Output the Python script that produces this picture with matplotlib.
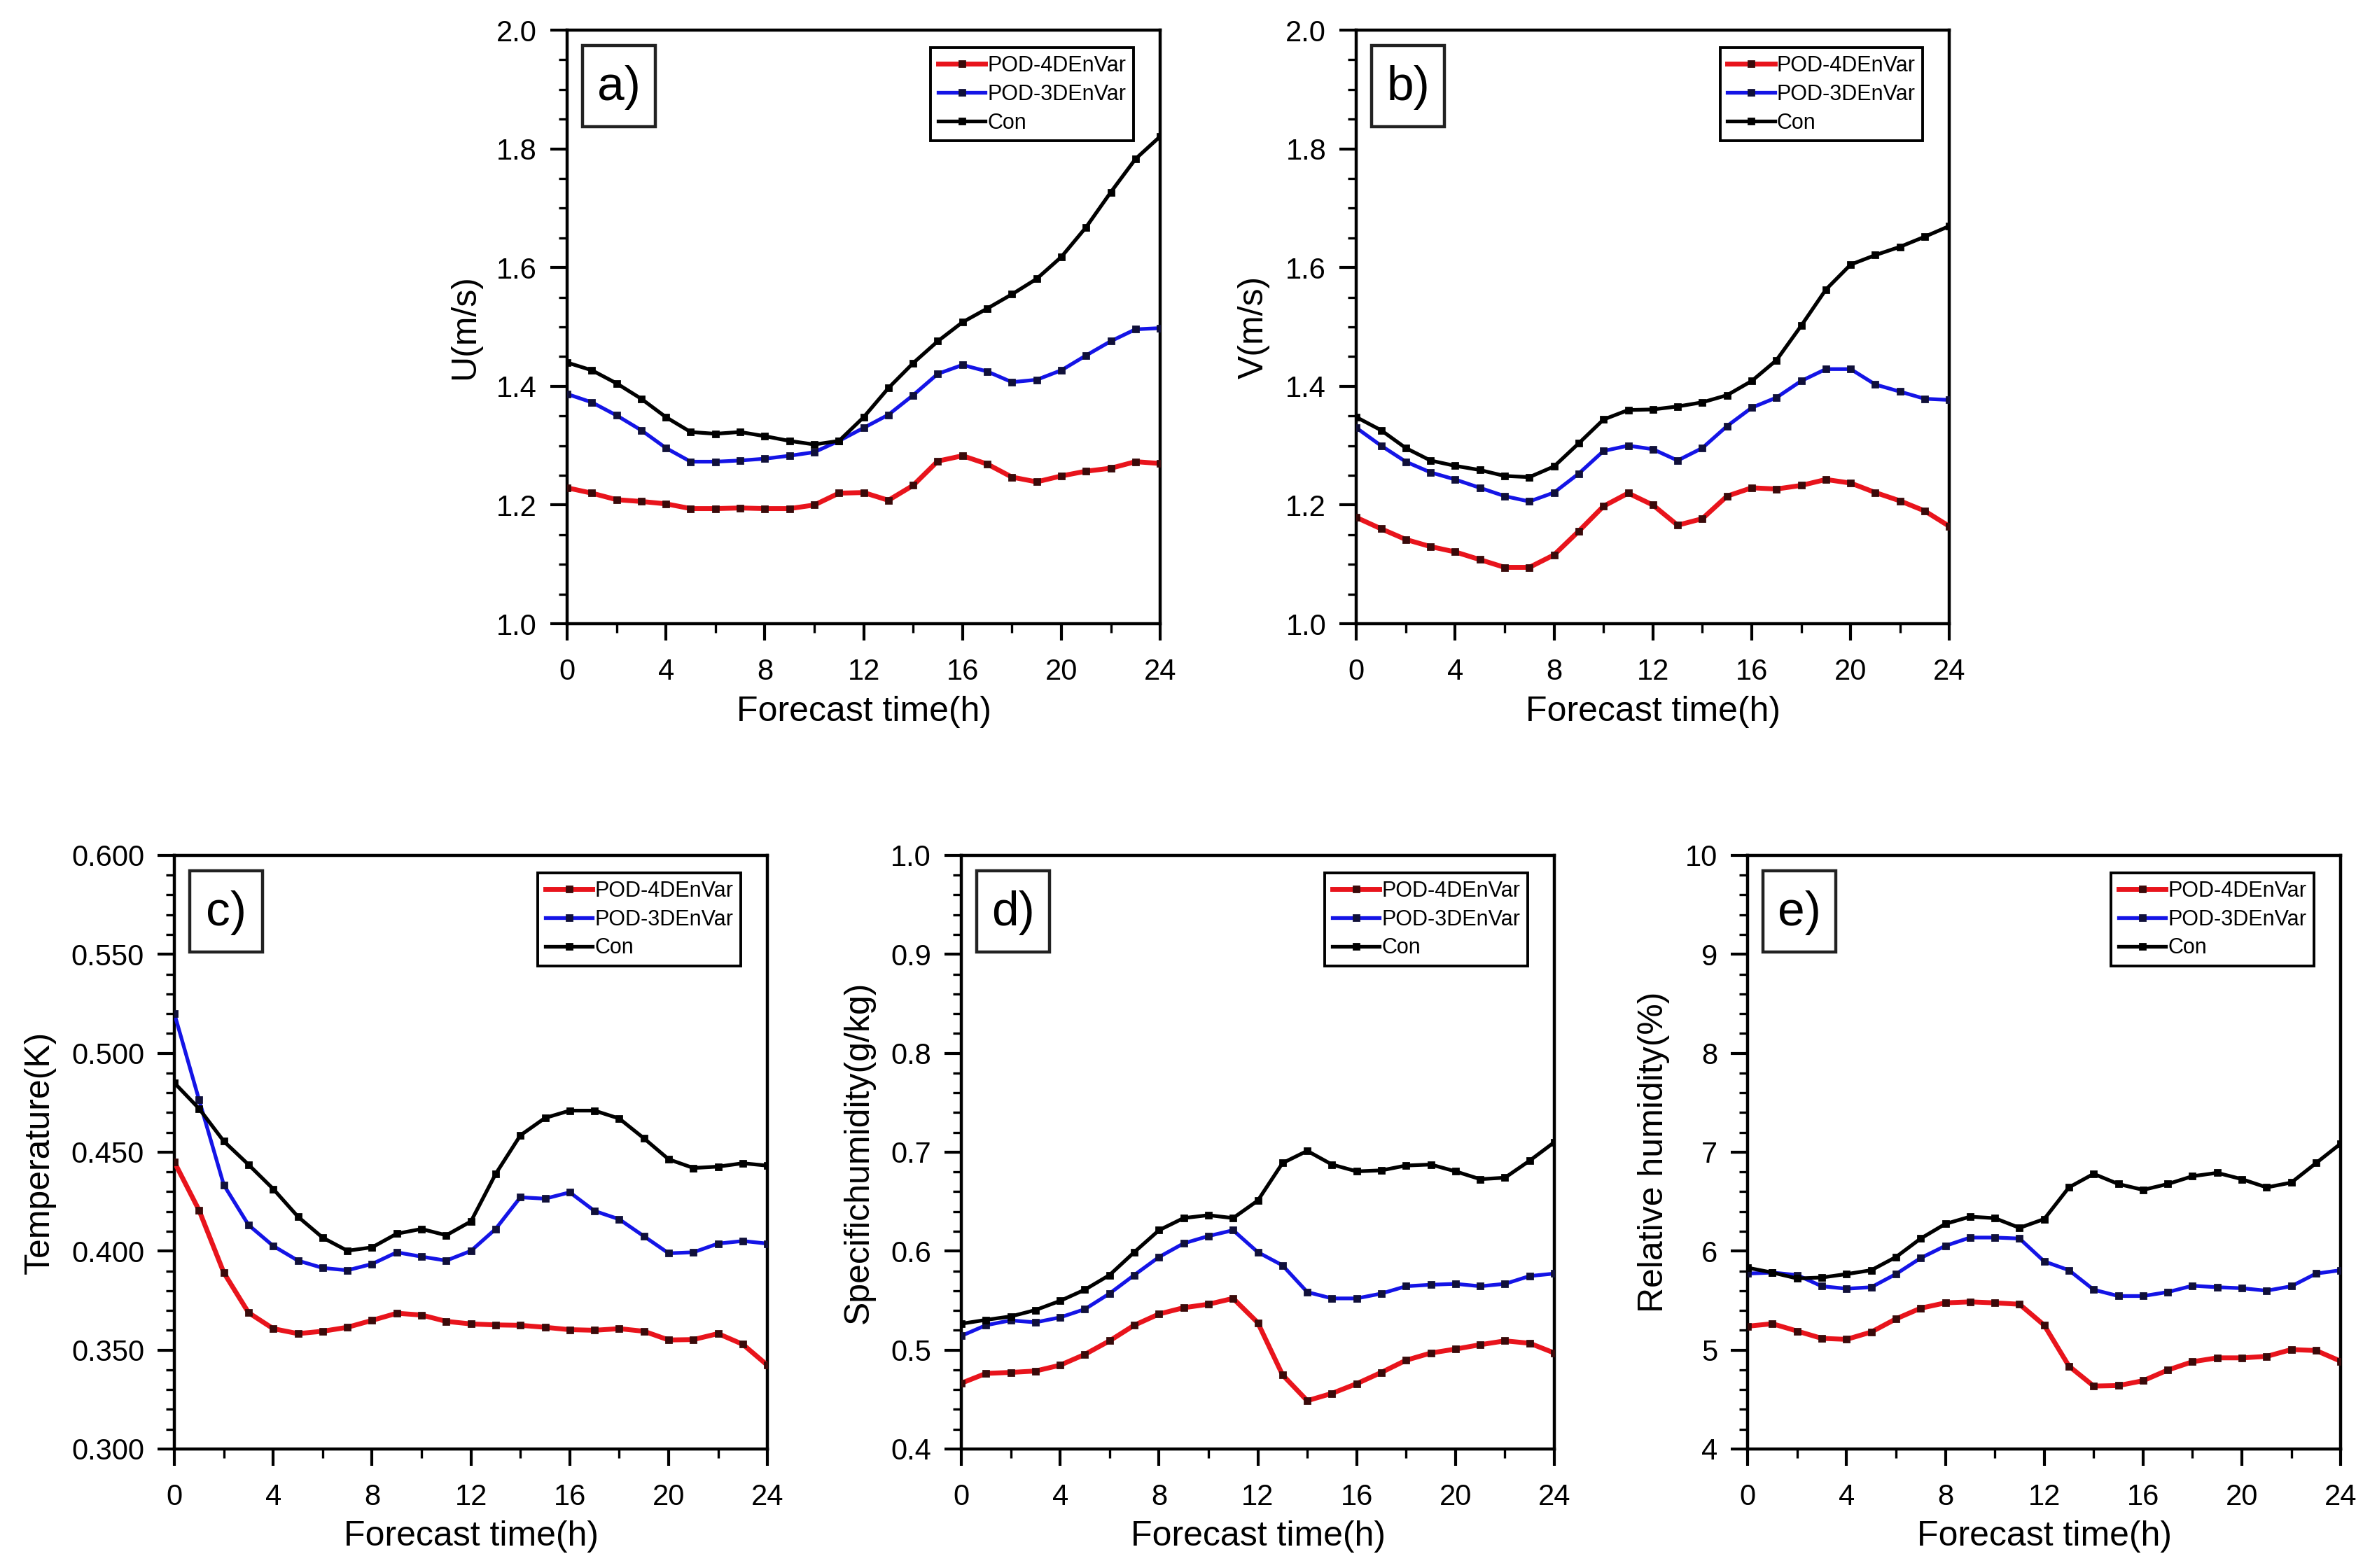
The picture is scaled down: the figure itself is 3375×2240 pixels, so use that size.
import matplotlib
matplotlib.use("Agg")
import matplotlib.pyplot as plt
from matplotlib.ticker import MultipleLocator, FormatStrFormatter
from matplotlib.patches import Rectangle

plt.rcParams['font.family'] = ['Liberation Sans', 'DejaVu Sans']

hours = list(range(25))
series_names = ["POD-4DEnVar", "POD-3DEnVar", "Con"]

# Panel a: U (m/s)
a_4d = [1.229, 1.220, 1.209, 1.206, 1.202, 1.194, 1.194, 1.195, 1.194, 1.194, 1.200, 1.220, 1.221,
        1.208, 1.233, 1.274, 1.283, 1.269, 1.247, 1.239, 1.249, 1.257, 1.262, 1.273, 1.270]
a_3d = [1.387, 1.373, 1.351, 1.326, 1.296, 1.273, 1.273, 1.275, 1.278, 1.283, 1.289, 1.308, 1.330,
        1.352, 1.385, 1.421, 1.436, 1.425, 1.407, 1.411, 1.427, 1.452, 1.476, 1.496, 1.498]
a_con = [1.440, 1.427, 1.405, 1.379, 1.348, 1.323, 1.320, 1.323, 1.316, 1.308, 1.302, 1.308, 1.348,
         1.397, 1.439, 1.476, 1.508, 1.531, 1.555, 1.581, 1.618, 1.668, 1.727, 1.783, 1.821]

# Panel b: V (m/s)
b_4d = [1.179, 1.160, 1.142, 1.130, 1.121, 1.108, 1.095, 1.095, 1.116, 1.156, 1.198, 1.220, 1.200,
        1.166, 1.177, 1.215, 1.229, 1.227, 1.233, 1.243, 1.237, 1.221, 1.207, 1.190, 1.164]
b_3d = [1.330, 1.300, 1.273, 1.255, 1.243, 1.229, 1.215, 1.206, 1.221, 1.253, 1.291, 1.300, 1.294,
        1.275, 1.296, 1.333, 1.364, 1.381, 1.409, 1.429, 1.429, 1.403, 1.391, 1.379, 1.377]
b_con = [1.348, 1.326, 1.296, 1.275, 1.266, 1.259, 1.249, 1.247, 1.265, 1.304, 1.344, 1.360, 1.361,
         1.366, 1.373, 1.385, 1.409, 1.444, 1.502, 1.563, 1.605, 1.621, 1.635, 1.652, 1.670]

# Panel c: Temperature (K)
c_4d = [0.445, 0.4206, 0.3891, 0.3689, 0.3608, 0.3583, 0.3595, 0.3615, 0.365, 0.3686, 0.3677, 0.3645,
        0.3632, 0.3627, 0.3625, 0.3615, 0.3603, 0.360, 0.3608, 0.3595, 0.3551, 0.3553, 0.3583, 0.3529, 0.3423]
c_3d = [0.520, 0.4764, 0.4334, 0.4132, 0.4026, 0.3952, 0.3915, 0.3903, 0.3935, 0.3994, 0.3972, 0.3952,
        0.4001, 0.4112, 0.4272, 0.4265, 0.4297, 0.4203, 0.4161, 0.4075, 0.3989, 0.3994, 0.4038, 0.4051, 0.4038]
c_con = [0.485, 0.472, 0.4555, 0.4437, 0.4314, 0.4174, 0.4068, 0.4002, 0.4019, 0.4088, 0.4112, 0.408,
         0.415, 0.439, 0.4585, 0.4673, 0.471, 0.471, 0.467, 0.457, 0.4464, 0.442, 0.4427, 0.4444, 0.4432]

# Panel d: Specific humidity (g/kg)
d_4d = [0.4665, 0.4764, 0.4774, 0.4788, 0.4847, 0.4956, 0.5093, 0.5251, 0.5364, 0.5428, 0.5463, 0.5522,
        0.5276, 0.4749, 0.4488, 0.4562, 0.466, 0.4774, 0.4897, 0.497, 0.501, 0.5054, 0.5093, 0.5069, 0.497]
d_3d = [0.5143, 0.5251, 0.530, 0.528, 0.533, 0.5413, 0.5571, 0.5758, 0.594, 0.6078, 0.6152, 0.6211,
        0.5989, 0.5856, 0.5586, 0.5522, 0.5522, 0.5571, 0.5645, 0.566, 0.5669, 0.5645, 0.5669, 0.5748, 0.5773]
d_con = [0.5266, 0.5305, 0.534, 0.5404, 0.5497, 0.561, 0.5758, 0.5989, 0.6211, 0.6334, 0.6363, 0.6334,
         0.6511, 0.689, 0.7013, 0.6875, 0.6806, 0.6816, 0.6865, 0.6875, 0.6806, 0.6727, 0.6742, 0.6914, 0.7101]

# Panel e: Relative humidity (%)
e_4d = [5.241, 5.266, 5.192, 5.118, 5.108, 5.182, 5.315, 5.423, 5.477, 5.487, 5.477, 5.463, 5.251,
        4.838, 4.636, 4.641, 4.690, 4.798, 4.882, 4.921, 4.921, 4.936, 5.005, 4.995, 4.887]
e_3d = [5.773, 5.783, 5.758, 5.645, 5.620, 5.635, 5.768, 5.930, 6.053, 6.137, 6.137, 6.127, 5.896,
        5.807, 5.610, 5.546, 5.546, 5.586, 5.650, 5.635, 5.625, 5.600, 5.645, 5.773, 5.807]
e_con = [5.832, 5.783, 5.724, 5.733, 5.768, 5.807, 5.940, 6.127, 6.275, 6.348, 6.333, 6.235, 6.324,
         6.644, 6.781, 6.678, 6.619, 6.678, 6.757, 6.791, 6.727, 6.644, 6.693, 6.890, 7.087]

panels = [
    dict(tag="a)", ylabel="U(m/s)", data=(a_4d, a_3d, a_con), ylim=(1.0, 2.0), major=0.2, minor=0.05,
         fmt="%.1f", pos=[0.240, 0.6022, 0.251, 0.3786]),
    dict(tag="b)", ylabel="V(m/s)", data=(b_4d, b_3d, b_con), ylim=(1.0, 2.0), major=0.2, minor=0.05,
         fmt="%.1f", pos=[0.574, 0.6022, 0.251, 0.3786]),
    dict(tag="c)", ylabel="Temperature(K)", data=(c_4d, c_3d, c_con), ylim=(0.3, 0.6), major=0.05, minor=0.01,
         fmt="%.3f", pos=[0.0738, 0.0759, 0.251, 0.3786]),
    dict(tag="d)", ylabel="Specifichumidity(g/kg)", data=(d_4d, d_3d, d_con), ylim=(0.4, 1.0), major=0.1,
         minor=0.02, fmt="%.1f", pos=[0.4068, 0.0759, 0.251, 0.3786]),
    dict(tag="e)", ylabel="Relative humidity(%)", data=(e_4d, e_3d, e_con), ylim=(4, 10), major=1, minor=0.2,
         fmt="%d", pos=[0.7396, 0.0759, 0.251, 0.3786]),
]

line_colors = ["#e8141c", "#1414e6", "#000000"]
marker_colors = ["#3a0a0a", "#10103a", "#000000"]
line_widths = [2.5, 1.9, 1.9]

fig = plt.figure(figsize=(16.875, 11.2), dpi=200)

for p in panels:
    ax = fig.add_axes(p["pos"])
    for vals, name, lc, mc, lw in zip(p["data"], series_names, line_colors, marker_colors, line_widths):
        ax.plot(hours, vals, color=lc, lw=lw, marker="s", markersize=3.0,
                markerfacecolor=mc, markeredgecolor=mc, label=name, zorder=3)
    ax.set_xlim(0, 24)
    ax.set_ylim(*p["ylim"])
    ax.xaxis.set_major_locator(MultipleLocator(4))
    ax.xaxis.set_minor_locator(MultipleLocator(2))
    ax.yaxis.set_major_locator(MultipleLocator(p["major"]))
    ax.yaxis.set_minor_locator(MultipleLocator(p["minor"]))
    ax.yaxis.set_major_formatter(FormatStrFormatter(p["fmt"]))
    ax.tick_params(which="major", direction="out", length=8.5, width=1.5, labelsize=15, pad=7)
    ax.tick_params(axis="x", which="major", pad=9)
    ax.tick_params(which="minor", direction="out", length=4.5, width=1.2)
    ax.tick_params(top=False, right=False)
    for s in ax.spines.values():
        s.set_linewidth(1.6)
    ax.set_xlabel("Forecast time(h)", fontsize=18, labelpad=5)
    ax.set_ylabel(p["ylabel"], fontsize=18, labelpad=8)
    # panel tag box
    ax.add_patch(Rectangle((0.026, 0.837), 0.123, 0.137, transform=ax.transAxes,
                           fill=False, edgecolor="#222222", lw=1.6, zorder=5))
    ax.text(0.0875, 0.903, p["tag"], transform=ax.transAxes, fontsize=25,
            ha="center", va="center", zorder=6)
    leg = ax.legend(loc="upper right", bbox_to_anchor=(0.955, 0.97), fontsize=11,
                    frameon=True, fancybox=False, edgecolor="black", framealpha=1,
                    handlelength=2.2, handletextpad=0.1, labelspacing=0.35,
                    borderpad=0.35, borderaxespad=0.0)
    leg.get_frame().set_linewidth(1.4)

fig.savefig("out.png", dpi=200, facecolor="white")
